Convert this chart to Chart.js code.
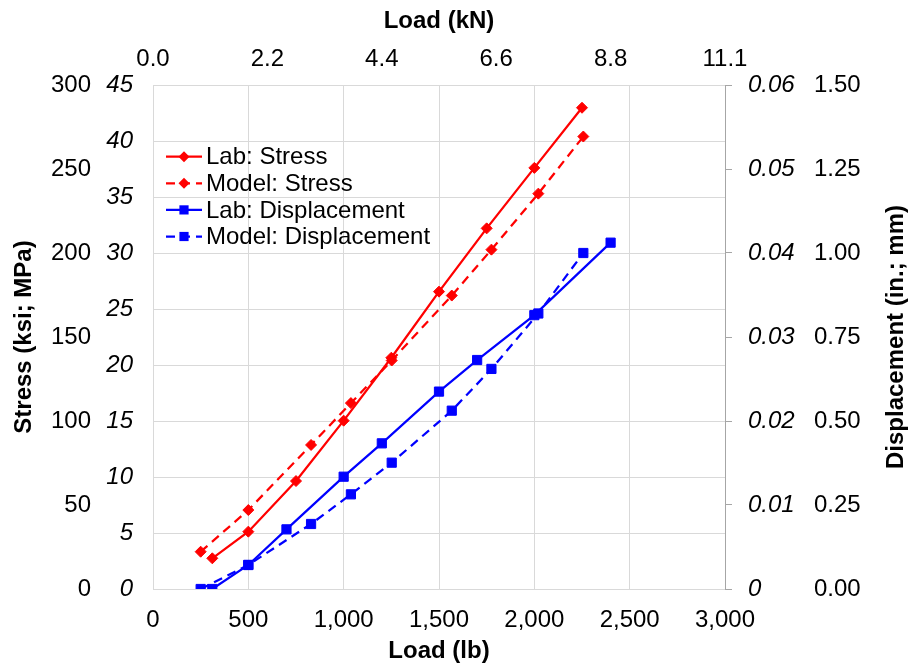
<!DOCTYPE html>
<html>
<head>
<meta charset="utf-8">
<script src="https://cdn.jsdelivr.net/npm/chart.js@4.4.0/dist/chart.umd.min.js"></script>
<style>
  body { margin: 0; background: #fff; }
</style>
</head>
<body>
<canvas id="chart" width="912" height="667"></canvas>
<script>
// loads in lb, stress in ksi, displacement in in.
const labStressLoad = [311, 500, 750, 1000, 1250, 1500, 1750, 2000, 2250];
const labStress = [2.74, 5.12, 9.64, 15.03, 20.65, 26.55, 32.2, 37.6, 42.97];
const modelLoad = [250, 500, 829, 1038, 1252, 1567, 1775, 2021, 2257];
const modelStress = [3.33, 7.05, 12.86, 16.6, 20.4, 26.2, 30.3, 35.3, 40.4];
const labDispLoad = [311, 500, 700, 1000, 1200, 1500, 1700, 2000, 2400];
const labDisp = [0, 0.00286, 0.0071, 0.01337, 0.01734, 0.0235, 0.02726, 0.0326, 0.04123];
const modelDisp = [0, 0.00286, 0.00774, 0.01127, 0.01504, 0.02123, 0.0262, 0.0328, 0.04];
const kNLabels = ["0.0", "2.2", "4.4", "6.6", "8.8", "11.1"];

const RED = "#FF0000";
const BLUE = "#0000FF";
const GRID = "#D9D9D9";
const AXIS = "#A6A6A6";
const FONT = "'Liberation Sans', Arial, sans-serif";

Chart.defaults.font.family = FONT;
Chart.defaults.font.size = 24;
Chart.defaults.color = "#000";

function toXY(xs, ys) {
  return xs.map((x, i) => ({ x: x, y: ys[i] }));
}

function series(label, xs, ys, axis, color, dashed, marker) {
  return {
    label: label,
    data: toXY(xs, ys),
    yAxisID: axis,
    borderColor: color,
    backgroundColor: color,
    borderWidth: 2.25,
    borderDash: dashed ? [9, 6] : [],
    pointStyle: marker,
    pointRadius: marker === "rect" ? 6.5 : 5.5,
    pointBorderWidth: 1,
    tension: 0,
  };
}

// legend inside the plot + right title reading bottom to top
const extras = {
  id: "extras",
  afterDraw(chart) {
    const ctx = chart.ctx;
    ctx.save();
    chart.data.datasets.forEach((ds, i) => {
      const base = 164.3 + i * 26.6;
      const y = base - 7.6;
      ctx.strokeStyle = ds.borderColor;
      ctx.lineWidth = ds.borderWidth;
      ctx.setLineDash(ds.borderDash);
      ctx.beginPath();
      ctx.moveTo(166, y);
      ctx.lineTo(202, y);
      ctx.stroke();
      ctx.setLineDash([]);
      ctx.fillStyle = ds.backgroundColor;
      ctx.beginPath();
      if (ds.pointStyle === "rect") {
        ctx.rect(184 - 4.6, y - 4.6, 9.2, 9.2);
      } else {
        ctx.moveTo(184 - 5.5, y);
        ctx.lineTo(184, y - 5.5);
        ctx.lineTo(184 + 5.5, y);
        ctx.lineTo(184, y + 5.5);
        ctx.closePath();
      }
      ctx.fill();
      ctx.fillStyle = "#000";
      ctx.font = "24px " + FONT;
      ctx.textAlign = "left";
      ctx.textBaseline = "alphabetic";
      ctx.fillText(ds.label, 206, base);
    });
    const a = chart.chartArea;
    ctx.translate(903, (a.top + a.bottom) / 2);
    ctx.rotate(-Math.PI / 2);
    ctx.font = "bold 24px " + FONT;
    ctx.textAlign = "center";
    ctx.textBaseline = "alphabetic";
    ctx.fillStyle = "#000";
    ctx.fillText("Displacement (in.; mm)", 0, 0);
    ctx.restore();
  },
};

new Chart(document.getElementById("chart"), {
  type: "line",
  data: {
    datasets: [
      series("Lab: Stress", labStressLoad, labStress, "yKsi", RED, false, "rectRot"),
      series("Model: Stress", modelLoad, modelStress, "yKsi", RED, true, "rectRot"),
      series("Lab: Displacement", labDispLoad, labDisp, "yIn", BLUE, false, "rect"),
      series("Model: Displacement", modelLoad, modelDisp, "yIn", BLUE, true, "rect"),
    ],
  },
  options: {
    responsive: false,
    animation: false,
    layout: { padding: 0 },
    plugins: {
      legend: { display: false },
      tooltip: { enabled: false },
    },
    scales: {
      x: {
        type: "linear",
        position: "bottom",
        min: 0,
        max: 3000,
        ticks: {
          stepSize: 500,
          maxRotation: 0,
          padding: 17,
          callback: (v) => v.toLocaleString("en-US"),
        },
        grid: { color: GRID, drawTicks: false },
        border: { color: GRID },
        title: {
          display: true,
          text: "Load (lb)",
          font: { weight: "bold", size: 24 },
          padding: { top: 0, bottom: 1 },
        },
        afterFit: (s) => { s.height = 78; },
      },
      xTop: {
        type: "linear",
        position: "top",
        min: 0,
        max: 5,
        ticks: {
          stepSize: 1,
          maxRotation: 0,
          padding: 11,
          callback: (v) => kNLabels[v] ?? "",
        },
        grid: { display: false, drawTicks: false },
        border: { display: false },
        title: {
          display: true,
          text: "Load (kN)",
          font: { weight: "bold", size: 24 },
          padding: { top: 7, bottom: 0 },
        },
        afterFit: (s) => { s.height = 85; },
      },
      yKsi: {
        type: "linear",
        position: "left",
        weight: 0,
        min: 0,
        max: 45,
        ticks: { stepSize: 5, padding: 20, font: { style: "italic" } },
        grid: { color: GRID, drawTicks: false },
        border: { color: GRID },
        afterFit: (s) => { s.width = 53; },
      },
      yMpa: {
        type: "linear",
        position: "left",
        weight: 1,
        min: 0,
        max: 300,
        ticks: { stepSize: 50, padding: 9 },
        grid: { display: false, drawTicks: false },
        border: { display: false },
        title: {
          display: true,
          text: "Stress (ksi; MPa)",
          font: { weight: "bold", size: 24 },
          padding: { top: 10, bottom: 0 },
        },
        afterFit: (s) => { s.width = 100; },
      },
      yIn: {
        type: "linear",
        position: "right",
        weight: 0,
        min: 0,
        max: 0.06,
        ticks: {
          stepSize: 0.01,
          padding: 16,
          font: { style: "italic" },
          callback: (v) => (v === 0 ? "0" : v.toFixed(2)),
        },
        grid: { drawOnChartArea: false, drawTicks: true, tickLength: 7, color: AXIS, tickColor: AXIS },
        border: { color: AXIS },
        afterFit: (s) => { s.width = 83; },
      },
      yMm: {
        type: "linear",
        position: "right",
        weight: 1,
        min: 0,
        max: 1.5,
        ticks: { stepSize: 0.25, padding: 6, callback: (v) => v.toFixed(2) },
        grid: { display: false, drawTicks: false },
        border: { display: false },
        afterFit: (s) => { s.width = 104; },
      },
    },
  },
  plugins: [extras],
});
</script>
</body>
</html>
